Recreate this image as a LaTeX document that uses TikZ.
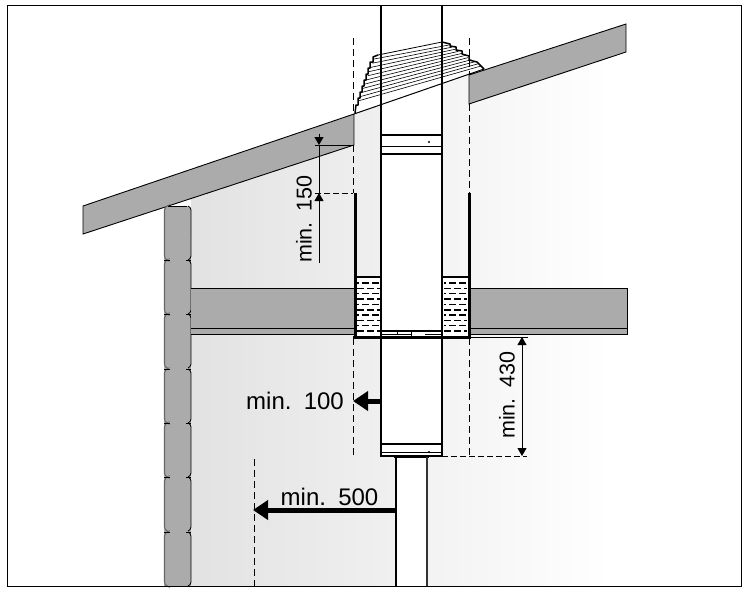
\documentclass[tikz,border=0pt]{standalone}
\usepackage{fontspec}
\setmainfont[WordSpace=1.5]{Liberation Sans}
\usetikzlibrary{arrows.meta}
\definecolor{roofgray}{HTML}{ABABAB}
\definecolor{wallgray}{HTML}{E2E2E2}
\tikzset{
  part/.style={draw=black, line width=0.9pt},
  guide/.style={draw=black, line width=0.7pt, dash pattern=on 7pt off 4pt},
  dimline/.style={draw=black, line width=0.8pt, {Triangle[length=8pt,width=9pt]}-{Triangle[length=8pt,width=9pt]}},
  bigarrow/.style={draw=black, line width=5pt, -{Triangle[length=15pt,width=19pt]}},
  bigtext/.style={inner sep=0pt, font=\fontsize{24}{24}\selectfont},
  dimtext/.style={inner sep=0pt, rotate=90, font=\fontsize{21.5}{21.5}\selectfont},
}
\begin{document}
\begin{tikzpicture}[x=1pt,y=-1pt]
  \useasboundingbox (0,0) rectangle (754,589);
  % wall behind
  \begin{scope}
    \clip (191,198) -- (355,145) -- (355,113) -- (469,75) -- (469,104) -- (626,52) -- (640,52) -- (640,586) -- (191,586) -- cycle;
    \shade[left color=wallgray, right color=white] (191,40) rectangle (610,586);
    \fill[white] (610,40) rectangle (640,586);
  \end{scope}
  % chimney
  \fill[white] (381,105) -- (442,84) -- (442,456) -- (381,456) -- cycle;
  \fill[white] (396,456) rectangle (427,586);
  % flashing
  \fill[white] (355,113) -- (357,100) -- (374,56) -- (442,42) -- (484,69) -- cycle;
  \foreach \t in {0,1,...,10} {
    \draw[line width=0.6pt] ({374-1.6*\t},{59+4.2*\t}) -- ({449+3.2*\t},{45+2.1*\t});
  }
  \draw[line width=1.5pt, line join=round] (355,113) -- (356,105) -- (358,105) -- (358,98) -- (360,98) -- (360,92) -- (362,92) -- (362,86) -- (364,86) -- (364,80) -- (366,80) -- (366,74) -- (368,74) -- (368,68) -- (370,68) -- (370,62) -- (373,62) -- (373,57) -- (378,55);
  \draw[line width=0.8pt] (378,55) -- (442,42);
  \draw[line width=1.5pt, line join=round] (442,42) -- (450,44) -- (450,46) -- (456,47) -- (456,50) -- (462,51) -- (462,54) -- (469,56) -- (469,60) -- (477,62) -- (484,69);
  % roof
  \draw[part, fill=roofgray] (83,206) -- (354,114) -- (354,145) -- (83,234) -- cycle;
  \draw[part, fill=roofgray] (469,75) -- (626,24) -- (626,52) -- (469,104) -- cycle;
  \draw[line width=1pt] (354,114) -- (484,69);
  % log wall
  \fill[roofgray, rounded corners=4pt] (164,206) rectangle (191,240);
  \fill[roofgray] (164,220) rectangle (191,586);
  \draw[line width=0.9pt] (168,206) -- (187,206);
  \foreach \y in {206,260,314,369,423,477,532} {
    \draw[draw=black!60, line width=1.1pt, rounded corners=3pt] (167,\y) -- (164.5,\y+1) -- (164.5,\y+53) -- (167,\y+54);
    \draw[line width=0.8pt, rounded corners=3pt] (188,\y) -- (191,\y+1) -- (191,\y+53) -- (188,\y+54);
  }
  \foreach \y in {260,314,369,423,477,532} {
    \draw[line width=0.7pt] (164,\y) -- (170,\y) (186,\y) -- (191,\y);
  }
  % ceiling
  \draw[part, fill=roofgray] (191,288) -- (355,288) -- (355,334) -- (191,334);
  \draw[part, fill=roofgray] (469,288) -- (627,288) -- (627,334) -- (469,334) -- cycle;
  \draw[line width=0.8pt] (191,328) -- (355,328) (469,328) -- (627,328);
  % insulation
  \fill[white] (355,277) rectangle (381,336);
  \fill[white] (442,277) rectangle (469,336);
  \foreach \y [count=\i] in {283,288.5,293.5,299,304.5,310,315,320.5,325.5,331} {
    \pgfmathsetmacro{\ph}{mod(\i,2)*5}
    \draw[line width=1.1pt, dash pattern=on 7pt off 3pt, dash phase=\ph pt] (357,\y) -- (380,\y);
    \draw[line width=1.1pt, dash pattern=on 7pt off 3pt, dash phase=\ph pt] (444,\y) -- (467,\y);
  }
  \draw[line width=1.5pt] (355,277) -- (381,277) (442,277) -- (469,277);
  \draw[line width=3pt] (355,193) -- (355,337) (469,193) -- (469,337);
  \draw[line width=1.5pt] (381,331) -- (442,331);
  \draw[line width=0.7pt] (381,334.5) -- (412,334.5) (425,334.5) -- (442,334.5) (397,331) -- (397,334.5) (411,331) -- (411,337);
  \draw[line width=2.5pt] (353,337.5) -- (471,337.5);
  \draw[line width=1.6pt] (381,5) -- (381,456) (442,5) -- (442,456);
  % collar
  \draw[line width=1.5pt] (381,135) -- (442,135);
  \draw[line width=0.8pt] (381,146) -- (442,146);
  \draw[line width=2.5pt] (381,154) -- (442,154);
  \fill (429,142) circle (1.2pt);
  % lower band
  \draw[line width=2pt] (381,444) -- (442,444);
  \draw[line width=0.8pt] (381,452) -- (442,452);
  \draw[line width=2pt] (380,456) -- (443,456);
  \draw[line width=2.5pt] (394,457) -- (429,457);
  \fill (429,452) circle (1.2pt);
  \draw[line width=1.8pt] (396,457) -- (396,586);
  \draw[line width=1.3pt, draw=black!80] (427,457) -- (427,586);
  % guides
  \draw[guide] (353,38) -- (353,113);
  \draw[guide] (353,145) -- (353,193);
  \draw[guide] (353,338) -- (353,456);
  \draw[guide] (469,38) -- (469,75);
  \draw[guide] (469,104) -- (469,193);
  \draw[guide] (469,338) -- (469,456);
  \draw[guide] (254,459) -- (254,586);
  % dimensions
  \coordinate (ridgeA) at (319,133);
  \coordinate (ridgeB) at (319,145);
  \coordinate (sleeveA) at (319,193);
  \coordinate (sleeveB) at (319,263);
  \coordinate (floorA) at (522,337);
  \coordinate (floorB) at (522,456);
  \coordinate (pipeA) at (381,401);
  \coordinate (pipeB) at (353,401);
  \coordinate (flueA) at (396,510);
  \coordinate (flueB) at (253,510);
  \draw[line width=0.8pt] (315,145) -- (354,145);
  \draw[line width=0.7pt, dash pattern=on 6pt off 3pt] (315,193) -- (353,193);
  \draw[line width=0.7pt, dash pattern=on 6pt off 3pt] (442,456) -- (527,456);
  \draw[line width=0.8pt] (469,337) -- (528,337);
  \draw[dimline, {Bar[width=0pt,length=0pt]}-{Triangle[length=8pt,width=9pt]}] (ridgeA) -- (ridgeB);
  \draw[dimline, {Triangle[length=8pt,width=9pt]}-] (sleeveA) -- (sleeveB);
  \draw[line width=0.8pt] (ridgeB) -- (sleeveA);
  \draw[dimline] (floorA) -- (floorB);
  \draw[bigarrow] (pipeA) -- (pipeB);
  \draw[bigarrow] (flueA) -- (flueB);
  \node[dimtext] (minA) at (304,219) {min. 150};
  \node[dimtext] (minB) at (507,395) {min. 430};
  \node[bigtext] (minC) at (295,401) {min. 100};
  \node[bigtext] (minD) at (329.5,497) {min. 500};
  % frame
  \draw[line width=1pt] (7,5) rectangle (741,586);
\end{tikzpicture}
\end{document}
